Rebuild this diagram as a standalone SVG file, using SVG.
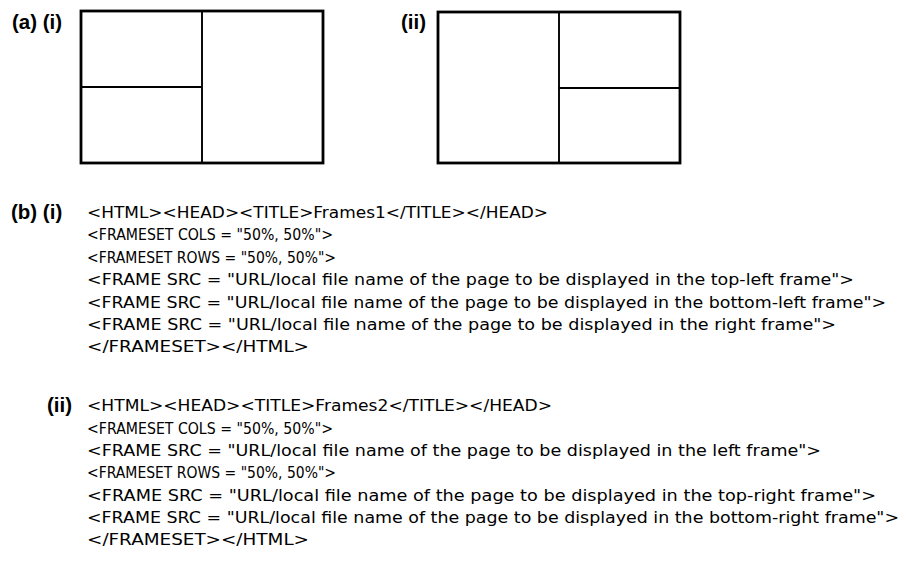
<svg xmlns="http://www.w3.org/2000/svg" width="906" height="572" viewBox="0 0 906 572">
  <style>
    .frame-outer { fill: none; stroke: #000; stroke-width: 2.8; }
    .frame-split { fill: none; stroke: #000; stroke-width: 1.9; }
    .label { font-family: "Liberation Sans", Arial, sans-serif; font-weight: bold; font-size: 20.5px; fill: #000; }
    .code { font-family: "DejaVu Sans", "Liberation Sans", sans-serif; font-size: 15px; fill: #000; }
  </style>
  <rect width="906" height="572" fill="#fff"/>

  <!-- (a) layouts -->
  <g id="label-a">
    <text class="label" x="12" y="29">(a) (i)</text>
    <text class="label" x="401" y="29">(ii)</text>
  </g>

  <!-- layout (i): two stacked frames on the left, one on the right -->
  <g id="layout-i">
    <rect class="frame-outer" x="81" y="11" width="242" height="152"/>
    <line class="frame-split" x1="202" y1="11" x2="202" y2="163"/>
    <line class="frame-split" x1="81" y1="87" x2="202" y2="87"/>
  </g>

  <!-- layout (ii): one frame on the left, two stacked on the right -->
  <g id="layout-ii">
    <rect class="frame-outer" x="438" y="12" width="242" height="151"/>
    <line class="frame-split" x1="559" y1="12" x2="559" y2="163"/>
    <line class="frame-split" x1="559" y1="88" x2="680" y2="88"/>
  </g>

  <!-- (b) markup -->
  <g id="code-i">
    <text class="label" x="11" y="219">(b) (i)</text>
    <text class="code" x="87" y="218" textLength="461" lengthAdjust="spacingAndGlyphs">&lt;HTML&gt;&lt;HEAD&gt;&lt;TITLE&gt;Frames1&lt;/TITLE&gt;&lt;/HEAD&gt;</text>
    <text class="code" x="87" y="240" textLength="246" lengthAdjust="spacingAndGlyphs">&lt;FRAMESET COLS = "50%, 50%"&gt;</text>
    <text class="code" x="87" y="263" textLength="249" lengthAdjust="spacingAndGlyphs">&lt;FRAMESET ROWS = "50%, 50%"&gt;</text>
    <text class="code" x="87" y="285" textLength="767" lengthAdjust="spacingAndGlyphs">&lt;FRAME SRC = "URL/local file name of the page to be displayed in the top-left frame"&gt;</text>
    <text class="code" x="87" y="308" textLength="799" lengthAdjust="spacingAndGlyphs">&lt;FRAME SRC = "URL/local file name of the page to be displayed in the bottom-left frame"&gt;</text>
    <text class="code" x="87" y="330" textLength="749" lengthAdjust="spacingAndGlyphs">&lt;FRAME SRC = "URL/local file name of the page to be displayed in the right frame"&gt;</text>
    <text class="code" x="87" y="352" textLength="222" lengthAdjust="spacingAndGlyphs">&lt;/FRAMESET&gt;&lt;/HTML&gt;</text>
  </g>

  <g id="code-ii">
    <text class="label" x="47" y="412">(ii)</text>
    <text class="code" x="87" y="411" textLength="465" lengthAdjust="spacingAndGlyphs">&lt;HTML&gt;&lt;HEAD&gt;&lt;TITLE&gt;Frames2&lt;/TITLE&gt;&lt;/HEAD&gt;</text>
    <text class="code" x="87" y="434" textLength="246" lengthAdjust="spacingAndGlyphs">&lt;FRAMESET COLS = "50%, 50%"&gt;</text>
    <text class="code" x="87" y="456" textLength="734" lengthAdjust="spacingAndGlyphs">&lt;FRAME SRC = "URL/local file name of the page to be displayed in the left frame"&gt;</text>
    <text class="code" x="87" y="478" textLength="249" lengthAdjust="spacingAndGlyphs">&lt;FRAMESET ROWS = "50%, 50%"&gt;</text>
    <text class="code" x="87" y="501" textLength="789" lengthAdjust="spacingAndGlyphs">&lt;FRAME SRC = "URL/local file name of the page to be displayed in the top-right frame"&gt;</text>
    <text class="code" x="87" y="523" textLength="812" lengthAdjust="spacingAndGlyphs">&lt;FRAME SRC = "URL/local file name of the page to be displayed in the bottom-right frame"&gt;</text>
    <text class="code" x="87" y="545" textLength="222" lengthAdjust="spacingAndGlyphs">&lt;/FRAMESET&gt;&lt;/HTML&gt;</text>
  </g>
</svg>
